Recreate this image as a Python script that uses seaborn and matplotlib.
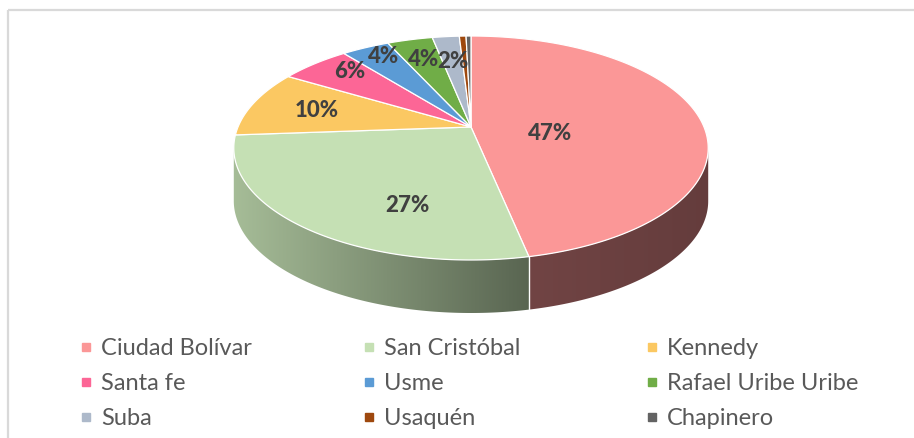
import numpy as np
import matplotlib
matplotlib.use("Agg")
import matplotlib.pyplot as plt
import seaborn as sns
from matplotlib.lines import Line2D
from matplotlib.patches import Rectangle, Polygon
from matplotlib.colors import to_rgb

# ---------------- data ----------------
districts = ["Ciudad Bolívar", "San Cristóbal", "Kennedy", "Santa fe", "Usme",
             "Rafael Uribe Uribe", "Suba", "Usaquén", "Chapinero"]
shares = [46.75, 27.1, 9.7, 5.7, 3.9, 3.7, 2.2, 0.55, 0.4]
colors = ["#FB9797", "#C5E0B4", "#FBC862", "#FC6696", "#5B9BD5",
          "#70AD47", "#ADB9CA", "#9E480E", "#636363"]

# ---------------- layout / style ----------------
W, H = 914, 438
CX, S, G, P, Q = 471, 233, 0.1875, 127, -84.25   # perspective projection of the disc
DEPTH = 53
label_r = [0.34, 0.68, 0.70, 0.81, 0.86, 0.74, 0.69, 0.7, 0.7]
label_shift = [15.7, -16.5, 0, 3.5, 1.7, 0, 0, 0, 0]
FONT = "Lato"

sns.set_style("white")
plt.rcParams["font.family"] = [FONT, "DejaVu Sans"]

fig = plt.figure(figsize=(W / 100, H / 100), dpi=100)
ax = fig.add_axes([0, 0, 1, 1])


def project(theta_deg, r=1.0, dy=0.0):
    t = np.radians(theta_deg)
    u = r * np.sin(t)
    v = r * np.cos(t)
    den = 1 + G * v
    return CX + S * u / den, (P + Q * v) / den + dy


vals = np.array(shares, dtype=float)
pct = vals / vals.sum() * 100
ang = np.concatenate([[0], np.cumsum(vals / vals.sum() * 360)])


def slice_of(theta):
    return np.clip(np.searchsorted(ang, theta, side="right") - 1, 0, len(vals) - 1)


# ---------------- side wall (shaded, clipped) ----------------
th_front = np.degrees(np.arccos(-G))
th = np.linspace(th_front, 360 - th_front, 600)
xt, yt = project(th)
xb, yb = project(th, dy=DEPTH)
side = Polygon(np.c_[np.r_[xt, xb[::-1]], np.r_[yt, yb[::-1]]], closed=True,
               fc="none", ec="none")
ax.add_patch(side)

xs_col = np.arange(np.floor(xt.min()) - 1, np.ceil(xt.max()) + 2, 0.5)
th_col = np.interp(xs_col, xt[::-1], th[::-1])
k_col = slice_of(th_col)
shade = np.interp(xs_col, [235, 530, 710], [0.84, 0.45, 0.40])
img = np.array([to_rgb(colors[k]) for k in k_col]) * shade[:, None]
im = ax.imshow(img[None, :, :], extent=(xs_col[0], xs_col[-1], yb.max() + 2, yt.min() - 2),
               aspect="auto", interpolation="nearest", zorder=1)
im.set_clip_path(side)

for a in ang[1:-1]:
    if th_front < a < 360 - th_front:
        x0, y0 = project(a)
        x1, y1 = project(a, dy=DEPTH)
        ax.plot([x0, x1], [y0, y1], color="white", lw=1.0, zorder=2)

# ---------------- top face ----------------
cxp, cyp = project(0, r=0)
for i in range(len(vals)):
    ts = np.linspace(ang[i], ang[i + 1], max(3, int((ang[i + 1] - ang[i]) * 2)))
    xs, ys = project(ts)
    ax.fill(np.r_[cxp, xs], np.r_[cyp, ys], color=colors[i], ec="white", lw=0.9, zorder=3)

# ---------------- data labels ----------------
for i in range(len(vals)):
    if pct[i] < 1.5:
        continue
    mid = 0.5 * (ang[i] + ang[i + 1]) + label_shift[i]
    x, y = project(mid, r=label_r[i])
    ax.text(x, y, f"{pct[i]:.0f}%", ha="center", va="center", fontsize=16,
            fontweight=900, color="#404040", zorder=4)

ax.set_xlim(0, W)
ax.set_ylim(H, 0)
ax.axis("off")

# ---------------- legend (3 columns) ----------------
handles = [Line2D([], [], marker="s", linestyle="", markersize=6.3,
                  markerfacecolor=c, markeredgecolor=c) for c in colors]
col_x = [79, 362, 645]
for c in range(3):
    idx = [c, c + 3, c + 6]
    fig.legend([handles[i] for i in idx], [districts[i] for i in idx],
               loc="upper left", bbox_to_anchor=(col_x[c] / W, 1 - 338 / H),
               frameon=False, fontsize=17, labelcolor="#595959",
               handlelength=0.6, handletextpad=0.33, labelspacing=0.59,
               borderpad=0, borderaxespad=0)

# ---------------- chart border ----------------
ax.add_patch(Rectangle((7.5, 9.5), 920, 460, fill=False, ec="#D9D9D9", lw=1.6))

fig.savefig("out.png", dpi=100)
